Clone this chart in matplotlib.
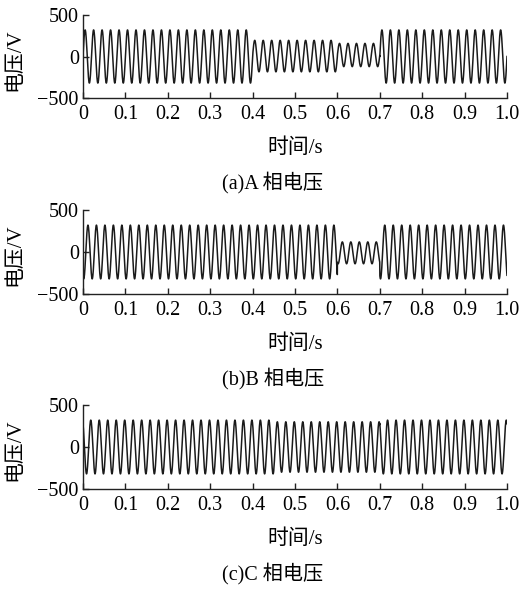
import numpy as np
import matplotlib
matplotlib.use("Agg")
import matplotlib.pyplot as plt

plt.rcParams['font.family'] = ['Liberation Serif', 'Noto Sans CJK SC', 'DejaVu Sans']
plt.rcParams['axes.unicode_minus'] = True

# ---- data (envelope of each phase voltage) ----
freq_hz = 50
t_start, t_end = 0.0, 1.0

A_breaks = [0.0, 0.4, 0.6, 0.7, 1.0]
A_amps = [320, 190, 140, 320]
A_offsets = [0, 5, 18, 0]

B_breaks = [0.0, 0.6, 0.7, 1.0]
B_amps = [320, 130, 320]
B_offsets = [0, -10, 0]

C_breaks = [0.0, 0.45, 0.7, 1.0]
C_amps = [320, 300, 320]
C_offsets = [0, 0, 0]

phase_deg = [0, -120, 120]
captions = ["(a)A 相电压", "(b)B 相电压", "(c)C 相电压"]
xlabel = "时间/s"
ylabel = "电压/V"
xticks = [0, 0.1, 0.2, 0.3, 0.4, 0.5, 0.6, 0.7, 0.8, 0.9, 1.0]
xticklabels = ["0", "0.1", "0.2", "0.3", "0.4", "0.5", "0.6", "0.7", "0.8", "0.9", "1.0"]
yticks = [-500, 0, 500]


def envelope(t, breaks, vals):
    idx = np.clip(np.searchsorted(breaks, t, side='right') - 1, 0, len(vals) - 1)
    return np.asarray(vals, dtype=float)[idx]


t = np.linspace(t_start, t_end, 6001)
phases = [(A_breaks, A_amps, A_offsets), (B_breaks, B_amps, B_offsets), (C_breaks, C_amps, C_offsets)]

W, H = 525, 590
fig = plt.figure(figsize=(W / 100, H / 100), dpi=100)

left_px, right_px = 83, 507
tops = [15, 210, 405]
bottoms = [98, 294, 489]

for i, (br, amps, offs) in enumerate(phases):
    top, bot = tops[i], bottoms[i]
    ax = fig.add_axes([left_px / W, 1 - bot / H, (right_px - left_px) / W, (bot - top) / H])
    v = envelope(t, br, amps) * np.sin(2 * np.pi * freq_hz * t + np.deg2rad(phase_deg[i])) + envelope(t, br, offs)
    ax.plot(t, v, color='#1a1a1a', lw=1.1)
    ax.set_xlim(0, 1.0)
    ax.set_ylim(-500, 500)
    ax.set_xticks(xticks)
    ax.set_xticklabels(xticklabels)
    ax.set_yticks(yticks)
    for s in ['top', 'right']:
        ax.spines[s].set_visible(False)
    for s in ['left', 'bottom']:
        ax.spines[s].set_linewidth(1.0)
        ax.spines[s].set_color('#222222')
    ax.tick_params(direction='in', length=4, width=1.0, labelsize=14.5, color='#222222')
    ax.tick_params(axis='x', pad=5)
    ax.tick_params(axis='y', pad=3)
    ax.patch.set_alpha(0)

    fig.text(15 / W, 1 - ((top + bot) / 2 + 3) / H, ylabel, rotation=90, ha='center', va='center', fontsize=15)
    fig.text(295 / W, 1 - (bot + 50) / H, xlabel, ha='center', va='center', fontsize=15)
    fig.text(273 / W, 1 - (bot + 85) / H, captions[i], ha='center', va='center', fontsize=14.5)

fig.savefig("out.png", dpi=100)
